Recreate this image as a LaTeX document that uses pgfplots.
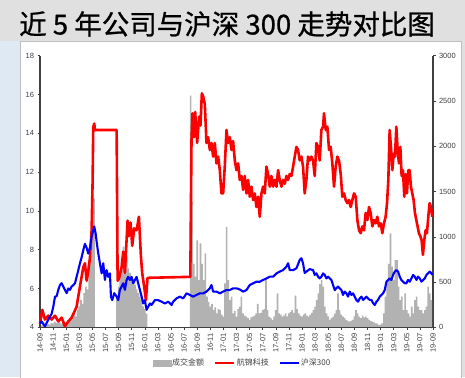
\documentclass[border=0pt]{standalone}
\usepackage{fontspec}
\setmainfont{Liberation Sans}
\newfontfamily\cjk{Noto Sans CJK SC}
\newfontfamily\cjktitle[FakeBold=0.8]{Noto Sans CJK SC}
\usepackage{pgfplots}
\pgfplotsset{compat=1.18}
\definecolor{barcolor}{RGB}{178,178,178}
\definecolor{axisgray}{RGB}{64,64,64}
\definecolor{bgtop}{RGB}{224,224,224}
\definecolor{bgleft}{RGB}{222,233,243}
\definecolor{hjred}{RGB}{255,0,0}
\definecolor{hsblue}{RGB}{0,0,255}
\begin{document}
\begin{tikzpicture}
\useasboundingbox (0pt,0pt) rectangle (465pt,377pt);
\fill[bgtop] (0pt,0pt) rectangle (465pt,377pt);
\fill[bgleft] (0pt,0pt) rectangle (20pt,336pt);
\fill[white, draw=gray!50] (20pt,-1pt) rectangle (461pt,336pt);
\node[anchor=west, inner sep=0pt, font=\cjktitle\fontsize{27.5}{27.5}\selectfont] at (19pt,353pt) {近 5 年公司与沪深 300 走势对比图};
% right axis: turnover bars
\begin{axis}[at={(40pt,49.7pt)}, anchor=south west, scale only axis,
  width=393pt, height=271.6pt,
  xmin=0, xmax=60, ymin=0, ymax=3000,
  axis y line*=right, axis x line=none,
  axis line style={-, draw=axisgray, line width=1.2pt},
  ytick={0,500,...,3000},
  tick align=outside, major tick length=2.5pt,
  tick style={draw=axisgray, line width=0.5pt},
  scaled y ticks=false,
  /pgf/number format/assume math mode=true,
  /pgf/number format/1000 sep={},
  yticklabel style={font=\fontsize{7.5}{8}\selectfont, text=axisgray},
  clip=false]
\addplot[ybar, bar width=0.25, fill=barcolor, draw=none] coordinates {
(0.25,20)(0.5,40)(0.75,30)(1,25)(1.25,35)(1.5,30)(1.75,45)(2,40)(2.25,60)(2.5,50)(2.75,45)(3,55)(3.25,40)(3.5,50)(3.75,45)(4,60)(4.25,80)(4.5,70)(4.75,90)(5,110)(5.25,140)(5.5,120)(5.75,190)(6,230)(6.25,300)(6.5,260)(6.75,380)(7,450)(7.25,420)(7.5,640)(7.75,820)(8,1150)(8.25,1420)
(11.75,330)(12,450)(12.25,600)(12.5,700)(12.75,890)(13,650)(13.25,780)(13.5,650)(13.75,600)(14,560)(14.25,500)(14.5,470)(14.75,420)(15,380)(15.25,340)(15.5,300)(15.75,230)(16,200)(16.25,150)
(23.0,2560)(23.25,1386)(23.5,700)(23.75,560)(24.0,960)(24.25,520)(24.5,926)(24.75,700)(25.0,520)(25.25,816)(25.5,338)(25.75,280)(26.0,228)(26.25,260)(26.5,191)(26.75,220)(27.0,154)(27.25,200)(27.5,191)(27.75,140)(28.0,117)(28.25,485)(28.5,1110)(28.75,522)(29.0,301)(29.25,338)(29.5,154)(29.75,180)(30.0,117)(30.25,200)(30.5,228)(30.75,338)(31.0,154)(31.25,130)(31.5,117)(31.75,100)(32.0,81)(32.25,110)(32.5,117)(32.75,130)(33.0,154)(33.25,260)(33.5,154)(33.75,160)(34.0,191)(34.25,200)(34.5,540)(34.75,191)(35.0,117)(35.25,100)(35.5,81)(35.75,120)(36.0,191)(36.25,375)(36.5,154)(36.75,140)(37.0,117)(37.25,130)(37.5,154)(37.75,120)(38.0,154)(38.25,170)(38.5,191)(38.75,160)(39.0,350)(39.25,200)(39.5,154)(39.75,130)(40.0,117)(40.25,140)(40.5,154)(40.75,130)(41.0,117)(41.25,140)(41.5,160)(41.75,190)(42.0,228)(42.25,300)(42.5,375)(42.75,478)(43.0,522)(43.25,448)(43.5,228)(43.75,154)(44.0,120)(44.25,81)(44.5,100)(44.75,117)(45.0,150)(45.25,191)(45.5,375)(45.75,191)(46.0,140)(46.25,117)(46.5,100)(46.75,81)(47.0,70)(47.25,62)(47.5,70)(47.75,81)(48.0,120)(48.25,191)(48.5,154)(48.75,117)(49.0,100)(49.25,130)(49.5,110)(49.75,117)(50.0,100)(50.25,81)(50.5,70)(50.75,62)(51.0,55)(51.25,44)(51.5,40)(51.75,25)(52.0,30)(52.25,44)(52.5,154)(52.75,338)(53.0,522)(53.25,700)(53.5,1037)(53.75,669)(54.0,522)(54.25,743)(54.5,743)(54.75,448)(55.0,301)(55.25,338)(55.5,191)(55.75,375)(56.0,191)(56.25,154)(56.5,117)(56.75,228)(57.0,154)(57.25,301)(57.5,338)(57.75,228)(58.0,191)(58.25,191)(58.5,154)(58.75,191)(59.0,228)(59.25,448)(59.5,375)(59.75,301)
};
\end{axis}
% left axis: price lines
\begin{axis}[at={(40pt,49.7pt)}, anchor=south west, scale only axis,
  width=393pt, height=271.6pt,
  xmin=0, xmax=60, ymin=4, ymax=18,
  axis y line*=left, axis x line*=bottom,
  axis line style={-, draw=axisgray, line width=1.2pt},
  ytick={4,6,...,18},
  xtick={0,2,...,60},
  xticklabels={14-09,14-11,15-01,15-03,15-05,15-07,15-09,15-11,16-01,16-03,16-05,16-07,16-09,16-11,17-01,17-03,17-05,17-07,17-09,17-11,18-01,18-03,18-05,18-07,18-09,18-11,19-01,19-03,19-05,19-07,19-09},
  tick align=outside, major tick length=2.5pt,
  tick style={draw=axisgray, line width=0.5pt},
  /pgf/number format/assume math mode=true,
  yticklabel style={font=\fontsize{7.5}{8}\selectfont, text=axisgray},
  xticklabel style={rotate=90, anchor=east, font=\fontsize{7.5}{8}\selectfont, text=axisgray},
  legend image code/.code={\draw[#1] (0pt,0pt) -- (19pt,0pt);},
  legend style={at={(0.514,-0.131)}, anchor=center, draw=none, fill=none,
    legend columns=-1, font=\cjk\fontsize{8}{9}\selectfont, text=axisgray,
    inner sep=0pt, nodes={inner xsep=1pt, inner ysep=0pt},
    /tikz/every even column/.append style={column sep=9pt}},
  clip=false]
\addlegendimage{legend image code/.code={\fill[barcolor] (0pt,-3pt) rectangle (18pt,3pt);}}
\addplot[hjred, line width=2.6pt, line join=round] coordinates {
(0,4.2)(0.35,4.9)(0.76,4.4)(1.27,4.6)(1.78,4.4)(2.29,4.6)(2.79,4.3)(3.3,4.5)(3.81,4.05)(4.32,4.3)(4.83,4.5)(5.24,4.8)(5.59,5.06)(5.85,5.6)(6.1,6.1)(6.35,6.6)(6.61,7.1)(6.86,7.3)(7.12,6.4)(7.37,6.9)(7.63,7.6)(7.88,9.0)(8.03,11.5)(8.13,14.3)(8.28,14.5)(8.39,14.17)(11.7,14.17)(11.85,6.4)(12.05,6.5)(12.46,7.1)(12.71,7.9)(12.96,6.8)(13.37,9.5)(13.57,8.7)(13.83,9.4)(14.08,8.2)(14.38,9.1)(14.75,9.0)(15.1,9.7)(15.4,7.7)(15.6,6.8)(15.9,6.1)(16.17,5.4)(16.42,6.55)(22.95,6.6)(23.13,13.65)(23.28,15.03)(23.49,13.8)(23.69,15.1)(23.99,13.5)(24.3,14.86)(24.5,14.4)(24.71,16.06)(24.91,15.9)(25.16,15.5)(25.42,13.5)(25.67,13.8)(25.93,13.14)(26.18,13.5)(26.43,12.8)(26.69,13.5)(26.94,12.45)(27.2,12.8)(27.45,12.1)(27.7,10.9)(27.96,10.9)(28.21,12.3)(28.47,14.17)(28.72,13.5)(28.98,13.8)(29.23,13.14)(29.48,13.6)(29.74,12.6)(29.99,12.1)(30.25,12.45)(30.5,11.6)(30.76,11.8)(31.01,11.08)(31.26,11.8)(31.52,10.9)(31.77,11.6)(32.03,10.73)(32.28,11.25)(32.54,10.56)(32.79,10.9)(33.04,10.2)(33.3,10.73)(33.55,9.7)(33.81,10.9)(34.06,11.25)(34.31,10.9)(34.57,12.28)(34.82,11.9)(35.08,11.25)(35.33,11.8)(35.59,11.25)(35.84,11.6)(36.1,11.25)(36.35,12.1)(36.6,11.6)(36.86,11.25)(37.11,11.6)(37.37,11.4)(37.62,11.8)(37.87,11.6)(38.13,11.9)(38.38,11.8)(38.64,12.28)(38.89,12.8)(39.15,13.3)(39.4,13.14)(39.65,12.6)(39.91,12.8)(40.16,12.28)(40.41,10.9)(40.67,11.6)(40.92,12.8)(41.18,12.6)(41.43,12.8)(41.69,12.6)(41.94,11.8)(42.2,13.5)(42.45,13.3)(42.7,12.6)(42.96,14.17)(43.21,14.34)(43.36,15.03)(43.62,14.17)(43.87,14.34)(44.13,13.14)(44.38,13.3)(44.63,12.45)(44.89,11.25)(45.14,12.28)(45.4,12.8)(45.65,12.6)(45.91,11.9)(46.16,10.73)(46.42,10.9)(46.67,10.56)(46.92,10.4)(47.18,10.56)(47.43,10.2)(47.69,10.56)(47.94,10.9)(48.2,10.73)(48.45,9.53)(48.71,9.0)(48.96,8.85)(49.21,9.2)(49.47,9.0)(49.72,9.9)(49.98,9.53)(50.23,10.2)(50.48,9.9)(50.74,9.2)(50.99,9.53)(51.25,9.36)(51.5,9.7)(51.76,9.2)(52.01,9.36)(52.26,8.85)(52.52,9.36)(52.77,9.7)(52.98,10.4)(53.18,11.6)(53.38,14.17)(53.58,13.3)(53.79,12.1)(53.99,12.95)(54.19,12.8)(54.4,14.34)(54.6,13.14)(54.8,12.45)(55.01,13.3)(55.21,11.8)(55.41,12.1)(55.62,10.73)(55.82,11.9)(56.02,10.9)(56.23,12.1)(56.43,12.1)(56.63,11.25)(56.84,10.9)(57.04,10.56)(57.24,9.9)(57.45,9.53)(57.65,9.2)(57.85,8.85)(58.06,8.7)(58.26,8.5)(58.46,7.73)(58.67,8.5)(58.87,9.0)(59.07,8.85)(59.28,9.7)(59.48,10.4)(59.68,10.2)(59.89,9.7)
};
\addplot[hsblue, line width=2.1pt, line join=round] coordinates {
(0,4.2)(0.25,4.3)(0.76,4.05)(1.27,4.4)(1.78,4.7)(2.03,5.06)(2.29,5.58)(2.54,5.6)(2.79,5.93)(3.05,6.18)(3.3,6.27)(3.56,6.1)(3.81,5.93)(4.07,5.76)(4.32,6.0)(4.58,5.93)(4.83,6.1)(5.09,6.18)(5.34,6.27)(5.59,6.6)(5.85,6.95)(6.1,7.3)(6.35,7.6)(6.61,7.98)(6.86,8.3)(7.12,8.1)(7.37,7.8)(7.63,8.1)(7.88,8.67)(8.13,9.0)(8.28,9.2)(8.49,8.85)(8.69,8.3)(8.9,7.8)(9.15,7.3)(9.41,6.78)(9.66,7.3)(9.91,6.44)(10.17,6.95)(10.42,6.6)(10.68,6.78)(10.83,5.58)(11.03,5.4)(11.33,5.76)(11.7,5.58)(11.94,5.4)(12.2,5.93)(12.46,6.1)(12.71,6.27)(12.96,5.93)(13.22,6.44)(13.47,6.6)(13.73,6.44)(13.98,6.6)(14.23,6.27)(14.49,6.44)(14.75,6.6)(14.99,6.27)(15.25,5.93)(15.51,5.58)(15.76,5.23)(16.01,5.4)(16.27,4.9)(16.52,5.06)(16.78,5.23)(17.03,5.15)(17.54,5.4)(18.04,5.4)(18.56,5.32)(19.06,5.23)(19.57,5.32)(20.09,5.15)(20.33,5.32)(20.85,5.49)(21.35,5.58)(21.86,5.49)(22.37,5.75)(22.88,5.67)(23.38,5.58)(23.9,5.67)(24.4,5.75)(24.91,5.75)(25.42,5.84)(25.93,6.01)(26.18,6.18)(26.43,5.84)(26.94,5.84)(27.45,5.75)(27.96,5.84)(28.47,5.92)(28.98,5.92)(29.48,6.01)(29.99,6.01)(30.5,5.95)(31.01,5.84)(31.52,5.92)(32.03,6.18)(32.54,6.27)(33.04,6.35)(33.55,6.35)(34.06,6.44)(34.57,6.52)(35.08,6.61)(35.59,6.61)(36.1,6.78)(36.6,6.87)(37.11,6.95)(37.62,7.13)(37.87,7.3)(38.13,6.95)(38.64,6.95)(39.15,7.04)(39.65,7.47)(39.91,7.56)(40.16,7.3)(40.41,6.8)(40.67,6.87)(41.18,7.0)(41.69,6.95)(41.94,6.7)(42.2,6.78)(42.45,6.61)(42.7,6.52)(42.96,6.61)(43.21,6.78)(43.47,6.7)(43.72,6.52)(43.98,6.61)(44.23,6.52)(44.49,6.44)(44.74,6.18)(45,5.92)(45.25,6.01)(45.5,6.1)(45.76,6.01)(46.01,5.92)(46.27,5.67)(46.52,5.84)(46.78,5.75)(47.03,5.58)(47.29,5.84)(47.54,5.67)(47.8,5.75)(48.05,5.58)(48.3,5.41)(48.56,5.32)(48.81,5.49)(49.07,5.58)(49.32,5.41)(49.58,5.49)(49.83,5.58)(50.09,5.49)(50.34,5.41)(50.6,5.41)(50.85,5.24)(51.1,5.15)(51.36,5.32)(51.61,5.41)(51.87,5.58)(52.12,5.67)(52.38,5.75)(52.63,5.92)(52.89,6.35)(53.14,6.44)(53.39,6.52)(53.65,6.44)(53.9,6.7)(54.16,6.87)(54.41,6.95)(54.67,6.87)(54.92,6.61)(55.17,6.44)(55.43,6.35)(55.68,6.27)(55.94,6.27)(56.19,6.44)(56.45,6.35)(56.7,6.52)(56.96,6.7)(57.21,6.61)(57.47,6.44)(57.72,6.61)(57.98,6.52)(58.23,6.35)(58.49,6.44)(58.74,6.52)(59,6.7)(59.25,6.78)(59.51,6.87)(59.76,6.78)(59.94,6.7)
};
\legend{成交金额,航锦科技,沪深300}
\end{axis}
\end{tikzpicture}
\end{document}
